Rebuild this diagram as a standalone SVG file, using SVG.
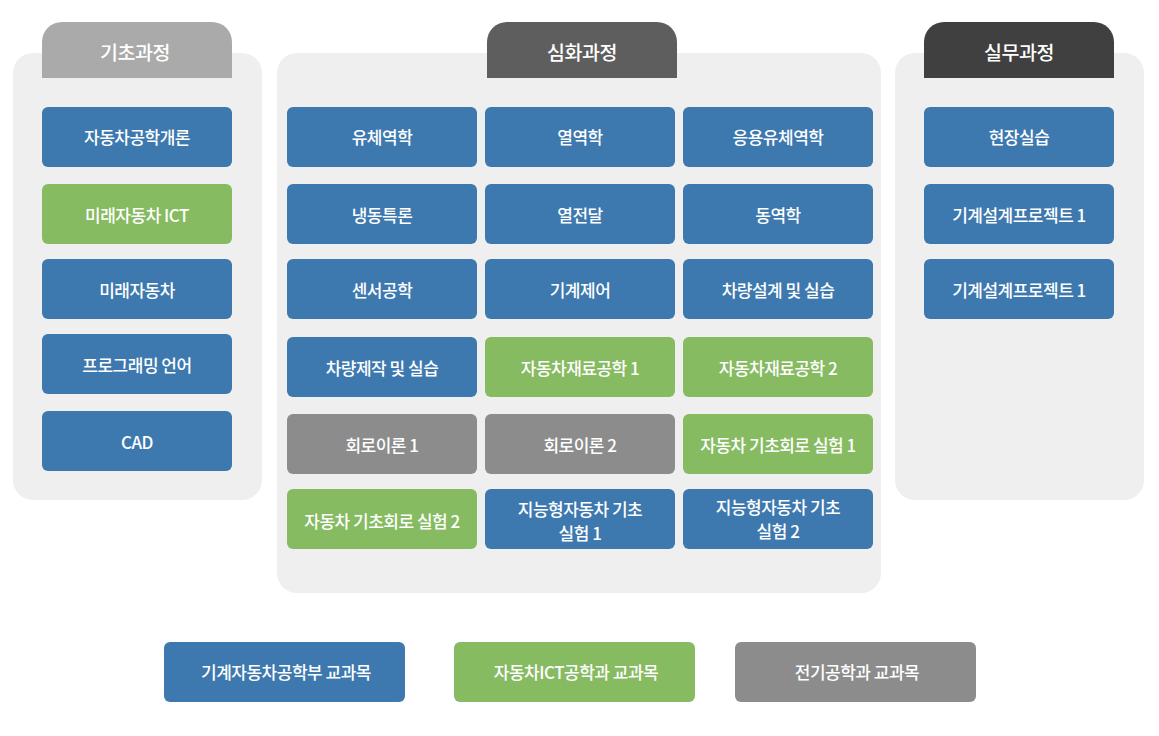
<svg xmlns="http://www.w3.org/2000/svg" width="1159" height="736" viewBox="0 0 1159 736">
<defs>
<style>
.panel{fill:#efefef}
.b{fill:#3d79af}
.g{fill:#86bb62}
.k{fill:#8c8c8c}
text{font-family:"Noto Sans CJK KR","Noto Sans",sans-serif;fill:#ffffff;text-anchor:middle;dominant-baseline:central;font-weight:500;letter-spacing:-0.5px}
.t{font-size:17px}
.h{font-size:19.5px}
</style>
</defs>
<rect width="1159" height="736" fill="#ffffff"/>
<g id="panel-basic">
<rect class="panel" x="13" y="53" width="249" height="447" rx="20"/>
<path d="M42 78 V42 a20 20 0 0 1 20 -20 H212 a20 20 0 0 1 20 20 V78 Z" fill="#aaaaaa"/>
<text class="h" x="135" y="51">기초과정</text>
</g>
<g id="panel-advanced">
<rect class="panel" x="277" y="53" width="604" height="540" rx="20"/>
<path d="M487 78 V42 a20 20 0 0 1 20 -20 H657 a20 20 0 0 1 20 20 V78 Z" fill="#5e5e5e"/>
<text class="h" x="582" y="51">심화과정</text>
</g>
<g id="panel-practice">
<rect class="panel" x="895" y="53" width="249" height="447" rx="20"/>
<path d="M924 78 V42 a20 20 0 0 1 20 -20 H1094 a20 20 0 0 1 20 20 V78 Z" fill="#404040"/>
<text class="h" x="1019" y="51">실무과정</text>
</g>
<g id="connectors"></g>
<g id="n-b1"><rect class="b" x="42" y="107" width="190" height="60" rx="6"/><text class="t" x="137" y="136">자동차공학개론</text></g>
<g id="n-b2"><rect class="g" x="42" y="184" width="190" height="60" rx="6"/><text class="t" x="137" y="214">미래자동차 ICT</text></g>
<g id="n-b3"><rect class="b" x="42" y="259" width="190" height="60" rx="6"/><text class="t" x="137" y="289">미래자동차</text></g>
<g id="n-b4"><rect class="b" x="42" y="334" width="190" height="60" rx="6"/><text class="t" x="137" y="364">프로그래밍 언어</text></g>
<g id="n-b5"><rect class="b" x="42" y="411" width="190" height="60" rx="6"/><text class="t" x="137" y="441">CAD</text></g>

<g id="n-a1"><rect class="b" x="287" y="107" width="190" height="60" rx="6"/><text class="t" x="382" y="136">유체역학</text></g>
<g id="n-a2"><rect class="b" x="485" y="107" width="190" height="60" rx="6"/><text class="t" x="580" y="136">열역학</text></g>
<g id="n-a3"><rect class="b" x="683" y="107" width="190" height="60" rx="6"/><text class="t" x="778" y="136">응용유체역학</text></g>
<g id="n-a4"><rect class="b" x="287" y="184" width="190" height="60" rx="6"/><text class="t" x="382" y="214">냉동특론</text></g>
<g id="n-a5"><rect class="b" x="485" y="184" width="190" height="60" rx="6"/><text class="t" x="580" y="214">열전달</text></g>
<g id="n-a6"><rect class="b" x="683" y="184" width="190" height="60" rx="6"/><text class="t" x="778" y="214">동역학</text></g>
<g id="n-a7"><rect class="b" x="287" y="259" width="190" height="60" rx="6"/><text class="t" x="382" y="289">센서공학</text></g>
<g id="n-a8"><rect class="b" x="485" y="259" width="190" height="60" rx="6"/><text class="t" x="580" y="289">기계제어</text></g>
<g id="n-a9"><rect class="b" x="683" y="259" width="190" height="60" rx="6"/><text class="t" x="778" y="289">차량설계 및 실습</text></g>
<g id="n-a10"><rect class="b" x="287" y="337" width="190" height="60" rx="6"/><text class="t" x="382" y="367">차량제작 및 실습</text></g>
<g id="n-a11"><rect class="g" x="485" y="337" width="190" height="60" rx="6"/><text class="t" x="580" y="367">자동차재료공학 1</text></g>
<g id="n-a12"><rect class="g" x="683" y="337" width="190" height="60" rx="6"/><text class="t" x="778" y="367">자동차재료공학 2</text></g>
<g id="n-a13"><rect class="k" x="287" y="414" width="190" height="60" rx="6"/><text class="t" x="382" y="444">회로이론 1</text></g>
<g id="n-a14"><rect class="k" x="485" y="414" width="190" height="60" rx="6"/><text class="t" x="580" y="444">회로이론 2</text></g>
<g id="n-a15"><rect class="g" x="683" y="414" width="190" height="60" rx="6"/><text class="t" x="778" y="444">자동차 기초회로 실험 1</text></g>
<g id="n-a16"><rect class="g" x="287" y="489" width="190" height="60" rx="6"/><text class="t" x="382" y="520">자동차 기초회로 실험 2</text></g>
<g id="n-a17"><rect class="b" x="485" y="489" width="190" height="60" rx="6"/><text class="t" x="580" y="508">지능형자동차 기초</text><text class="t" x="580" y="532">실험 1</text></g>
<g id="n-a18"><rect class="b" x="683" y="489" width="190" height="60" rx="6"/><text class="t" x="778" y="506">지능형자동차 기초</text><text class="t" x="778" y="530">실험 2</text></g>

<g id="n-p1"><rect class="b" x="924" y="107" width="190" height="60" rx="6"/><text class="t" x="1019" y="136">현장실습</text></g>
<g id="n-p2"><rect class="b" x="924" y="184" width="190" height="60" rx="6"/><text class="t" x="1019" y="214">기계설계프로젝트 1</text></g>
<g id="n-p3"><rect class="b" x="924" y="259" width="190" height="60" rx="6"/><text class="t" x="1019" y="289">기계설계프로젝트 1</text></g>

<g id="legend-1"><rect class="b" x="164" y="642" width="241" height="60" rx="6"/><text class="t" x="286" y="671">기계자동차공학부 교과목</text></g>
<g id="legend-2"><rect class="g" x="454" y="642" width="241" height="60" rx="6"/><text class="t" x="576" y="671">자동차ICT공학과 교과목</text></g>
<g id="legend-3"><rect class="k" x="735" y="642" width="241" height="60" rx="6"/><text class="t" x="857" y="671">전기공학과 교과목</text></g>
</svg>
